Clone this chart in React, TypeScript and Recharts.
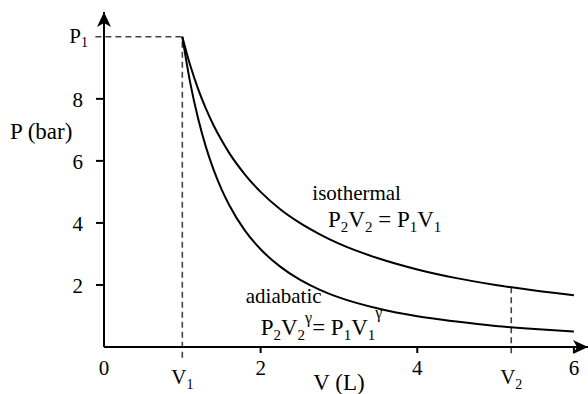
import { LineChart, Line, XAxis, YAxis, ReferenceLine, ReferenceDot } from "recharts";

// volumes (L)
const volumes = [1, 1.1, 1.2, 1.3, 1.4, 1.5, 1.6, 1.8, 2, 2.25, 2.5, 2.75, 3, 3.5, 4, 4.5, 5, 5.5, 6];
// pressures (bar)
const isothermalP = [10, 9.09, 8.33, 7.69, 7.14, 6.67, 6.25, 5.56, 5.0, 4.44, 4.0, 3.64, 3.33, 2.86, 2.5, 2.22, 2.0, 1.82, 1.67];
const adiabaticP = [10, 8.53, 7.38, 6.46, 5.71, 5.09, 4.57, 3.75, 3.15, 2.59, 2.17, 1.85, 1.6, 1.24, 0.99, 0.82, 0.68, 0.58, 0.5];

const xTicks = [0, 1, 2, 4, 5.2, 6];
const yTicks = [2, 4, 6, 8, 10];
const V1 = 1;
const V2 = 5.2;
const P1 = 10;
const P2iso = 1.92;

const isoData = volumes.map((v, i) => ({ v, p: isothermalP[i] }));
const adiData = volumes.map((v, i) => ({ v, p: adiabaticP[i] }));

const FONT = "Liberation Serif";
const FS = 21;
const BIG = 23;
const SUB = 14;
const txt = { fontFamily: FONT, fontSize: FS };

const XTick = (props: any) => {
  const { x, y, payload } = props;
  const val = payload.value;
  const mark = val === 2 || val === 4 || val === 6;
  let label: any = String(val);
  let dyBase = 28;
  if (val === V1 || val === V2) {
    dyBase = 37;
    label = (
      <>
        <tspan>V</tspan>
        <tspan fontSize={SUB} dy={5}>{val === V1 ? "1" : "2"}</tspan>
      </>
    );
  }
  return (
    <g>
      {mark && <line x1={x} x2={x} y1={y} y2={y + 6} stroke="#000" strokeWidth={2} />}
      <text x={x} y={y + dyBase} textAnchor="middle" style={txt} fill="#000">
        {label}
      </text>
    </g>
  );
};

const YTick = (props: any) => {
  const { x, y, payload } = props;
  const val = payload.value;
  if (val === P1) {
    return (
      <text x={x - 16} y={y + 6} textAnchor="end" style={txt} fill="#000">
        <tspan>P</tspan>
        <tspan fontSize={SUB} dy={4}>1</tspan>
      </text>
    );
  }
  return (
    <g>
      <line x1={x - 8} x2={x} y1={y} y2={y} stroke="#000" strokeWidth={2} />
      <text x={x - 21} y={y + 8} textAnchor="end" style={txt} fill="#000">
        {val}
      </text>
    </g>
  );
};

const textShape = (content: any, anchor = "start", size = FS) => (props: any) => (
  <text x={props.cx} y={props.cy} textAnchor={anchor} style={{ fontFamily: FONT, fontSize: size }} fill="#000">
    {content}
  </text>
);

const isoEq = (
  <>
    <tspan>P</tspan>
    <tspan fontSize={15} dy={5}>2</tspan>
    <tspan dy={-5}>V</tspan>
    <tspan fontSize={15} dy={5}>2</tspan>
    <tspan dy={-5}> = P</tspan>
    <tspan fontSize={15} dy={5}>1</tspan>
    <tspan dy={-5}>V</tspan>
    <tspan fontSize={15} dy={5}>1</tspan>
  </>
);

const adiEq = (
  <>
    <tspan>P</tspan>
    <tspan fontSize={15} dy={5}>2</tspan>
    <tspan dy={-5}>V</tspan>
    <tspan fontSize={15} dy={5}>2</tspan>
    <tspan fontSize={16} dy={-17}>γ</tspan>
    <tspan dy={12}>= P</tspan>
    <tspan fontSize={15} dy={5}>1</tspan>
    <tspan dy={-5}>V</tspan>
    <tspan fontSize={15} dy={5}>1</tspan>
    <tspan fontSize={16} dy={-22}>γ</tspan>
  </>
);

const arrowRight = (props: any) => {
  const { cx, cy } = props;
  return <path d={`M${cx},${cy} L${cx - 15},${cy - 7} L${cx - 11},${cy} L${cx - 15},${cy + 7} Z`} fill="#000" />;
};

const arrowUp = (props: any) => {
  const { cx, cy } = props;
  return <path d={`M${cx},${cy} L${cx - 7},${cy + 15} L${cx},${cy + 11} L${cx + 7},${cy + 15} Z`} fill="#000" />;
};

const dash = { stroke: "#444", strokeWidth: 1.6, strokeDasharray: "6 4" };

export default function App() {
  return (
    <div style={{ position: "absolute", left: 0, top: 0, background: "#fff" }}>
      <LineChart width={588} height={394} margin={{ top: 12, right: 0, bottom: 0, left: 0 }}>
        <XAxis
          type="number"
          dataKey="v"
          domain={[0, 6.18]}
          ticks={xTicks}
          allowDataOverflow
          axisLine={{ stroke: "#000", strokeWidth: 2 }}
          tickLine={false}
          tickSize={0}
          tickMargin={0}
          tick={<XTick />}
          height={47}
          interval={0}
        />
        <YAxis
          type="number"
          domain={[0, 10.8]}
          ticks={yTicks}
          allowDataOverflow
          axisLine={{ stroke: "#000", strokeWidth: 2 }}
          tickLine={false}
          tickSize={0}
          tickMargin={0}
          tick={<YTick />}
          width={104}
          interval={0}
        />
        <ReferenceLine segment={[{ x: -0.11, y: P1 }, { x: V1, y: P1 }]} {...dash} ifOverflow="visible" />
        <ReferenceLine segment={[{ x: V1, y: -0.35 }, { x: V1, y: P1 }]} {...dash} ifOverflow="visible" />
        <ReferenceLine segment={[{ x: V2, y: -0.2 }, { x: V2, y: P2iso }]} {...dash} ifOverflow="visible" />
        <Line data={isoData} dataKey="p" type="monotone" stroke="#000" strokeWidth={2} dot={false} isAnimationActive={false} />
        <Line data={adiData} dataKey="p" type="monotone" stroke="#000" strokeWidth={2} dot={false} isAnimationActive={false} />
        <ReferenceDot x={6.18} y={0} r={0} shape={arrowRight} ifOverflow="visible" />
        <ReferenceDot x={0} y={10.8} r={0} shape={arrowUp} ifOverflow="visible" />
        <ReferenceDot x={-1.2} y={6.71} r={0} shape={textShape("P (bar)", "start", BIG)} ifOverflow="visible" />
        <ReferenceDot x={3.0} y={-1.38} r={0} shape={textShape("V (L)", "middle", BIG)} ifOverflow="visible" />
        <ReferenceDot x={2.66} y={4.74} r={0} shape={textShape("isothermal")} ifOverflow="visible" />
        <ReferenceDot x={2.86} y={3.87} r={0} shape={textShape(isoEq, "start", BIG)} ifOverflow="visible" />
        <ReferenceDot x={1.81} y={1.42} r={0} shape={textShape("adiabatic")} ifOverflow="visible" />
        <ReferenceDot x={2.0} y={0.39} r={0} shape={textShape(adiEq, "start", BIG)} ifOverflow="visible" />
      </LineChart>
    </div>
  );
}
